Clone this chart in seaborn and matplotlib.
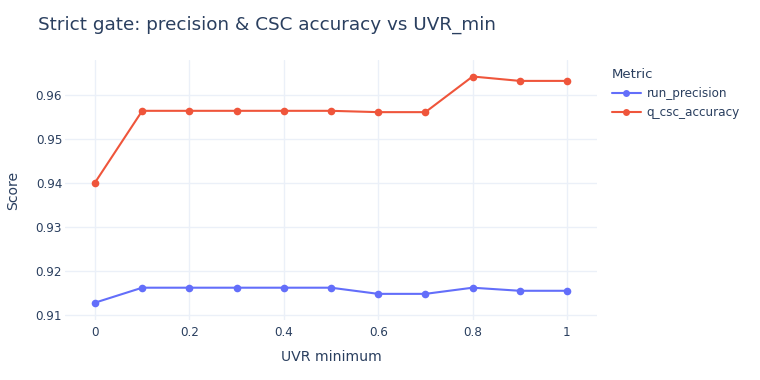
import matplotlib
matplotlib.use("Agg")
import matplotlib.pyplot as plt
import seaborn as sns
import pandas as pd
from matplotlib.lines import Line2D

uvr_min = [0.0, 0.1, 0.2, 0.3, 0.4, 0.5, 0.6, 0.7, 0.8, 0.9, 1.0]
run_precision = [0.9128, 0.9162, 0.9162, 0.9162, 0.9162, 0.9162, 0.9148, 0.9148, 0.9162, 0.9155, 0.9155]
q_csc_accuracy = [0.9401, 0.9564, 0.9564, 0.9564, 0.9564, 0.9564, 0.9561, 0.9561, 0.9642, 0.9632, 0.9632]
metrics = ["run_precision", "q_csc_accuracy"]
colors = ["#636efa", "#EF553B"]
x_ticks = [0, 0.2, 0.4, 0.6, 0.8, 1.0]
x_tick_labels = ["0", "0.2", "0.4", "0.6", "0.8", "1"]
y_ticks = [0.91, 0.92, 0.93, 0.94, 0.95, 0.96]

df = pd.DataFrame({
    "UVR minimum": uvr_min * 2,
    "Score": run_precision + q_csc_accuracy,
    "Metric": [metrics[0]] * len(uvr_min) + [metrics[1]] * len(uvr_min),
})

sns.set_theme(style="white")
plt.rcParams["font.family"] = ["DejaVu Sans"]
text_color = "#2a3f5f"
grid_color = "#EBF0F8"

fig = plt.figure(figsize=(7.6, 3.8), dpi=100)
ax = fig.add_axes([65 / 760, 60 / 380, 532 / 760, 260 / 380])

sns.lineplot(data=df, x="UVR minimum", y="Score", hue="Metric",
             palette=dict(zip(metrics, colors)), marker="o", markersize=5.5,
             markeredgewidth=0, linewidth=1.5, ax=ax, legend=False, zorder=3)

ax.set_xlim(-0.0636, 1.0636)
ax.set_ylim(0.90886, 0.96795)
ax.set_xticks(x_ticks)
ax.set_xticklabels(x_tick_labels)
ax.set_yticks(y_ticks)
ax.set_yticklabels([f"{v:.2f}" for v in y_ticks])
ax.grid(True, color=grid_color, linewidth=1)
ax.set_axisbelow(True)
for s in ax.spines.values():
    s.set_visible(False)
ax.tick_params(axis="both", length=0, labelsize=8.64, colors=text_color)
ax.tick_params(axis="y", pad=2)
ax.tick_params(axis="x", pad=4)
ax.set_xlabel("UVR minimum", fontsize=10.08, color=text_color, labelpad=8)
ax.set_ylabel("Score", fontsize=10.08, color=text_color, labelpad=11)

fig.text(38 / 760, 1 - 25 / 380, "Strict gate: precision & CSC accuracy vs UVR_min",
         fontsize=13.2, color=text_color, va="center", ha="left")

handles = [Line2D([0], [0], color=c, marker="o", markersize=5, markeredgewidth=0, linewidth=1.5)
           for c in colors]
leg = fig.legend(handles, metrics, title="Metric", loc="upper left",
                 bbox_to_anchor=(607 / 760, 1 - 63 / 380), frameon=False,
                 fontsize=8.64, title_fontsize=9.5, handlelength=2.4,
                 handletextpad=0.5, labelspacing=0.5, borderaxespad=0, alignment="left")
for t in leg.get_texts():
    t.set_color(text_color)
leg.get_title().set_color(text_color)

fig.savefig("out.png", dpi=100)
